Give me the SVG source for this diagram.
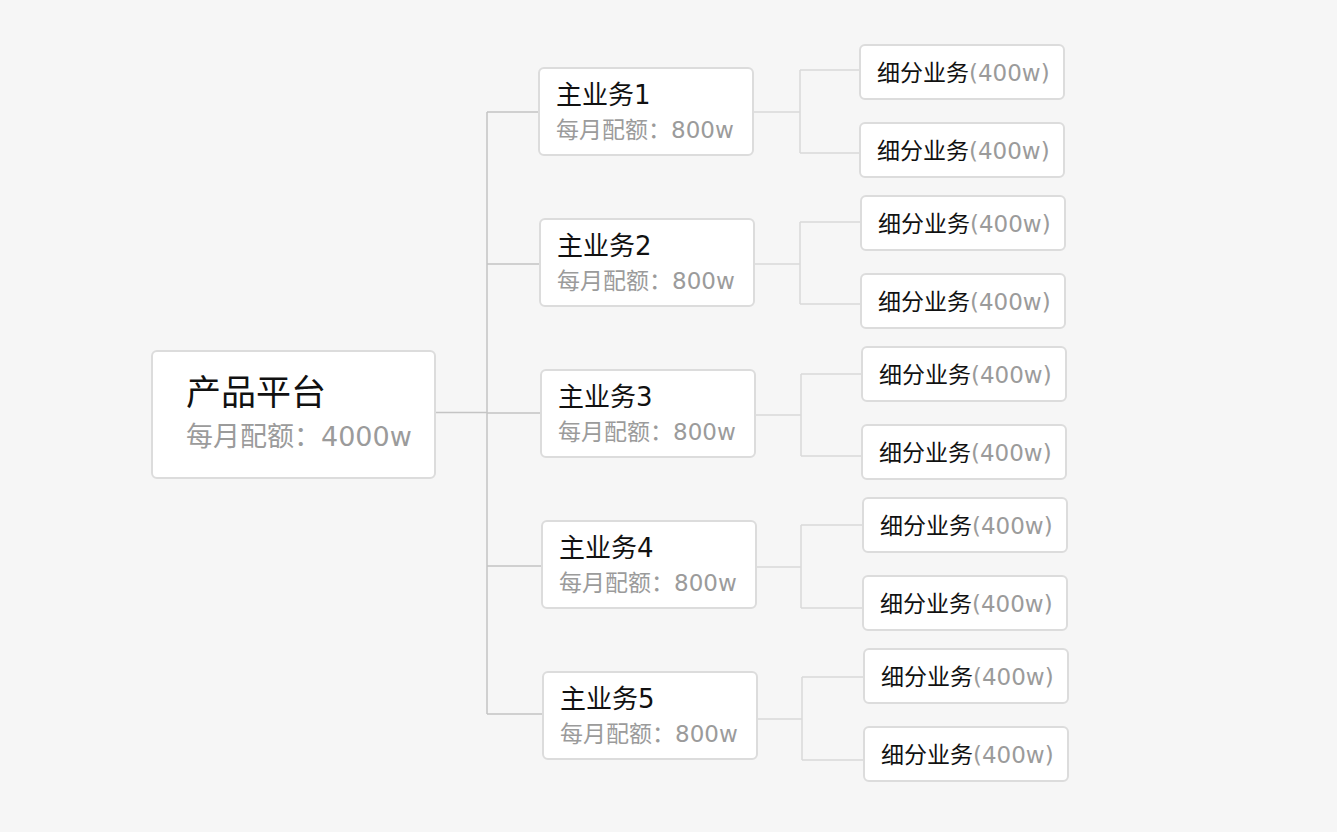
<svg xmlns="http://www.w3.org/2000/svg" width="1337" height="832" viewBox="0 0 1337 832">
<style>
.box{fill:#fff;stroke:#dcdcdc;stroke-width:2}
.t{font-family:"DejaVu Sans","Noto Sans CJK SC",sans-serif;fill:#111}
.g{fill:#9b9b9b}
.root{font-size:35px}
.rsub{font-size:27px}
.mt{font-size:26px}
.ms{font-size:23px}
.lt{font-size:23px}
.trunk{stroke:#c4c4c4;stroke-width:1.5;fill:none}
.br{stroke:#d9d9d9;stroke-width:1.5;fill:none}
</style>
<rect width="1337" height="832" fill="#f6f6f6"/>
<g id="connectors">
<path class="trunk" d="M435 412.5H487M487 112V714M487 112H539M487 264H540M487 413H541M487 566H542M487 714H543"/>
<path class="br" d="M753 112H800M800 70V153M800 70H860M800 153H860"/>
<path class="br" d="M754 264H800M800 222V304M800 222H861M800 304H861"/>
<path class="br" d="M755 415H801M801 374V456M801 374H862M801 456H862"/>
<path class="br" d="M756 567H801M801 525V608M801 525H863M801 608H863"/>
<path class="br" d="M757 719H802M802 677V760M802 677H864M802 760H864"/>
</g>
<g id="root">
<rect class="box" x="152" y="351" width="283" height="127" rx="5"/>
<text class="t root" x="186" y="405">产品平台</text>
<text class="t g rsub" x="186" y="446">每月配额：4000w</text>
</g>
<g id="main1">
<rect class="box" x="539" y="68" width="214" height="87" rx="5"/>
<text class="t mt" x="556" y="104">主业务1</text>
<text class="t g ms" x="556" y="138">每月配额：800w</text>
</g>
<g id="main2">
<rect class="box" x="540" y="219" width="214" height="87" rx="5"/>
<text class="t mt" x="557" y="255">主业务2</text>
<text class="t g ms" x="557" y="289">每月配额：800w</text>
</g>
<g id="main3">
<rect class="box" x="541" y="370" width="214" height="87" rx="5"/>
<text class="t mt" x="558" y="406">主业务3</text>
<text class="t g ms" x="558" y="440">每月配额：800w</text>
</g>
<g id="main4">
<rect class="box" x="542" y="521" width="214" height="87" rx="5"/>
<text class="t mt" x="559" y="557">主业务4</text>
<text class="t g ms" x="559" y="591">每月配额：800w</text>
</g>
<g id="main5">
<rect class="box" x="543" y="672" width="214" height="87" rx="5"/>
<text class="t mt" x="560" y="708">主业务5</text>
<text class="t g ms" x="560" y="742">每月配额：800w</text>
</g>
<g id="leaf1a"><rect class="box" x="860" y="45" width="204" height="54" rx="5"/><text class="t lt" x="877" y="81">细分业务<tspan class="g">(400w)</tspan></text></g>
<g id="leaf1b"><rect class="box" x="860" y="123" width="204" height="54" rx="5"/><text class="t lt" x="877" y="159">细分业务<tspan class="g">(400w)</tspan></text></g>
<g id="leaf2a"><rect class="box" x="861" y="196" width="204" height="54" rx="5"/><text class="t lt" x="878" y="232">细分业务<tspan class="g">(400w)</tspan></text></g>
<g id="leaf2b"><rect class="box" x="861" y="274" width="204" height="54" rx="5"/><text class="t lt" x="878" y="310">细分业务<tspan class="g">(400w)</tspan></text></g>
<g id="leaf3a"><rect class="box" x="862" y="347" width="204" height="54" rx="5"/><text class="t lt" x="879" y="383">细分业务<tspan class="g">(400w)</tspan></text></g>
<g id="leaf3b"><rect class="box" x="862" y="425" width="204" height="54" rx="5"/><text class="t lt" x="879" y="461">细分业务<tspan class="g">(400w)</tspan></text></g>
<g id="leaf4a"><rect class="box" x="863" y="498" width="204" height="54" rx="5"/><text class="t lt" x="880" y="534">细分业务<tspan class="g">(400w)</tspan></text></g>
<g id="leaf4b"><rect class="box" x="863" y="576" width="204" height="54" rx="5"/><text class="t lt" x="880" y="612">细分业务<tspan class="g">(400w)</tspan></text></g>
<g id="leaf5a"><rect class="box" x="864" y="649" width="204" height="54" rx="5"/><text class="t lt" x="881" y="685">细分业务<tspan class="g">(400w)</tspan></text></g>
<g id="leaf5b"><rect class="box" x="864" y="727" width="204" height="54" rx="5"/><text class="t lt" x="881" y="763">细分业务<tspan class="g">(400w)</tspan></text></g>
</svg>
